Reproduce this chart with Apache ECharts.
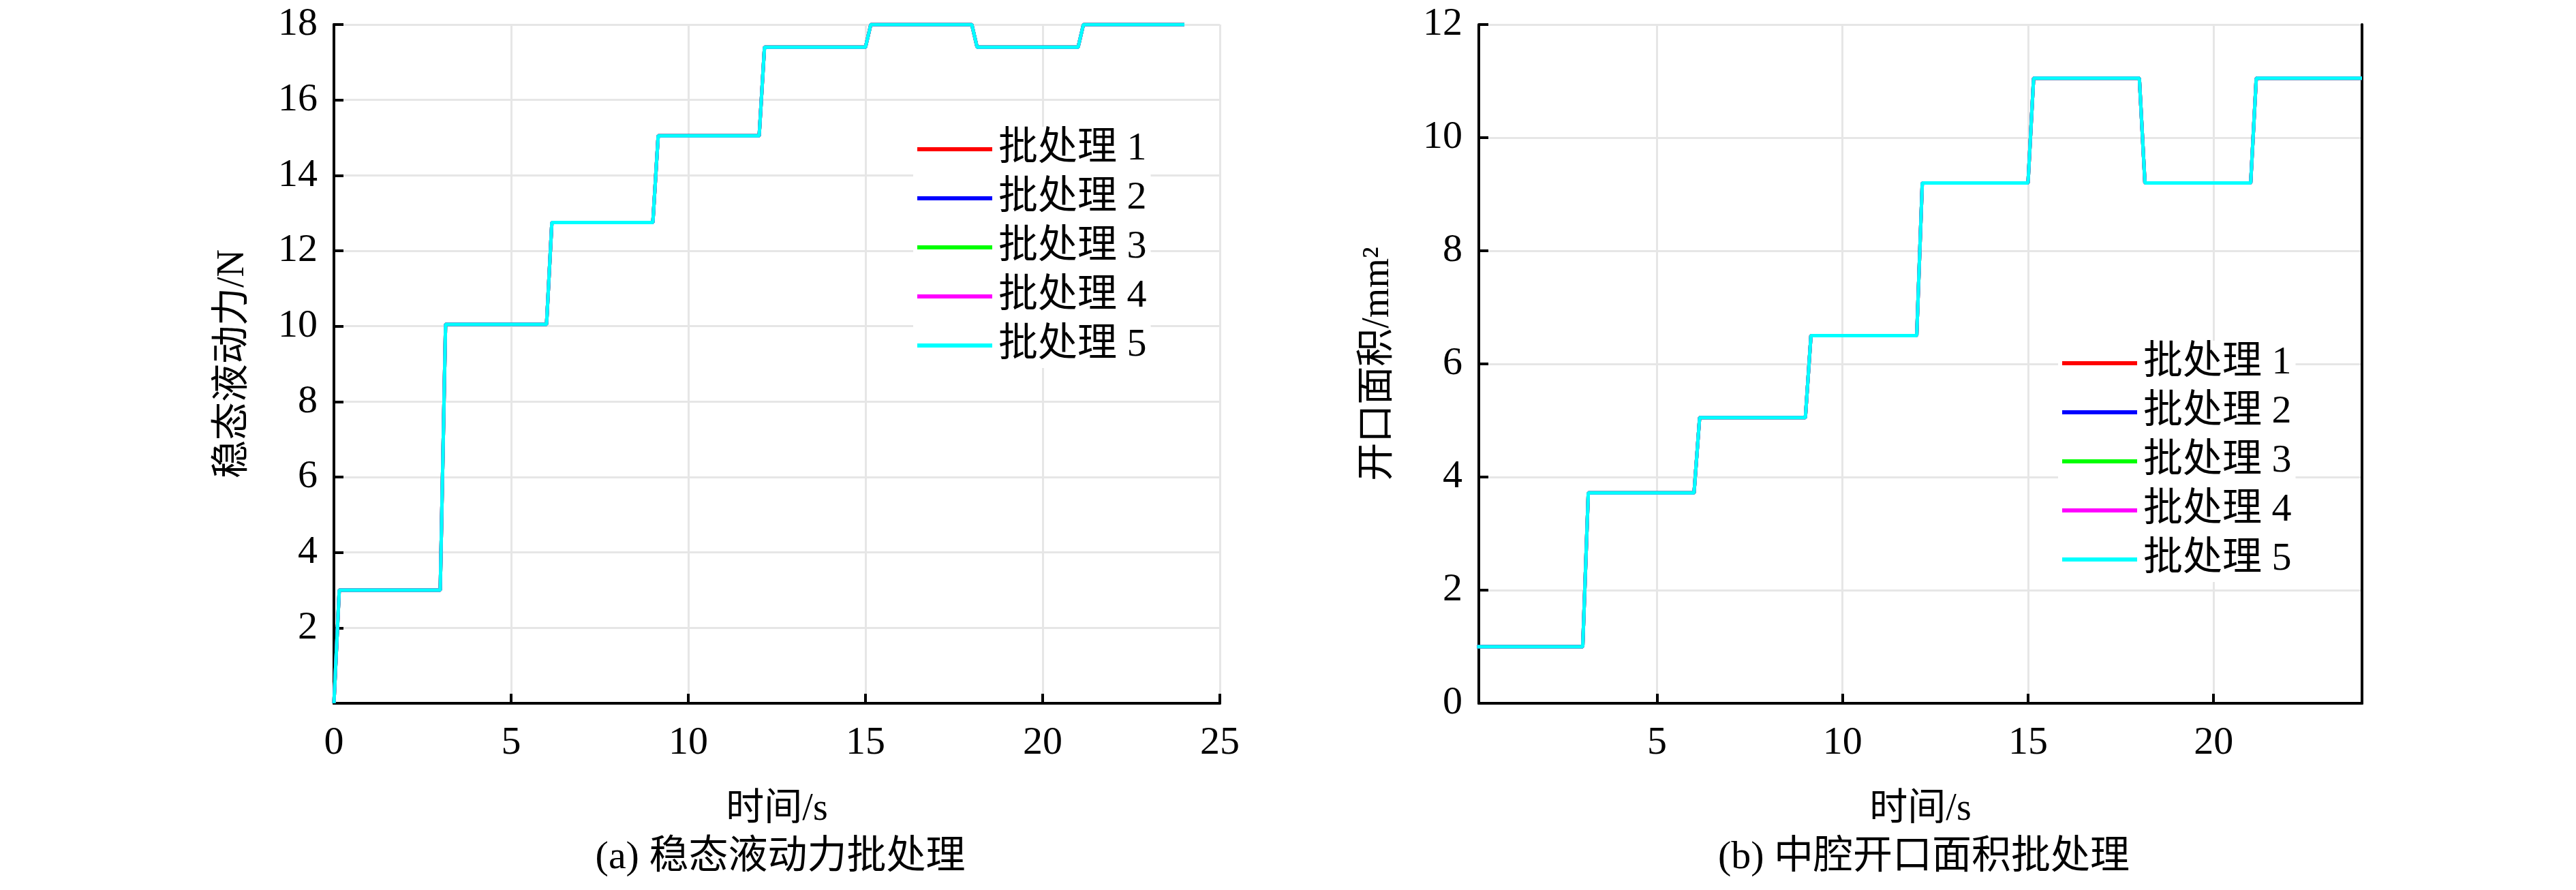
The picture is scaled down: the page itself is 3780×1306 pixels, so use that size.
<!DOCTYPE html>
<html>
<head>
<meta charset="UTF-8">
<script src="https://cdn.jsdelivr.net/npm/echarts@6/dist/echarts.min.js"></script>
<style>
  html, body { margin: 0; padding: 0; background: #fff; }
  #main { width: 3780px; height: 1306px; }
</style>
</head>
<body>
<div id="main"></div>
<script>
// step switching times (s)
var stepTimes = [0, 3, 6, 9, 12, 15, 18, 21, 24];
// steady-state flow force levels (N)
var forceLevels = [3.0, 10.05, 12.75, 15.05, 17.4, 18.0, 17.4, 18.0];
// middle chamber opening area levels (mm2)
var areaLevels = [1.0, 3.72, 5.05, 6.5, 9.2, 11.05, 9.2, 11.05];
var seriesNames = ['批处理 1', '批处理 2', '批处理 3', '批处理 4', '批处理 5'];
var seriesColors = ['#ff0000', '#0000ff', '#00ff00', '#ff00ff', '#00ffff'];

function buildSteps(levels, start, x0) {
  var pts = [[x0, start]];
  for (var i = 0; i < levels.length; i++) {
    pts.push([stepTimes[i] + 0.15, levels[i]]);
    pts.push([stepTimes[i + 1], levels[i]]);
  }
  return pts;
}

var font = '"Liberation Serif", "Noto Sans CJK SC", serif';
var chart = echarts.init(document.getElementById('main'));

function makeSeries(levels, start, x0, gi) {
  return seriesNames.map(function(n, k) {
    return {
      name: n, type: 'line', xAxisIndex: gi, yAxisIndex: gi,
      showSymbol: false, symbol: 'none',
      data: buildSteps(levels, start, x0),
      lineStyle: { color: seriesColors[k], width: 5 },
      itemStyle: { color: seriesColors[k] }, z: 2 + k
    };
  });
}

function xAxisOpt(gi, min, max, custom) {
  var o = {
    type: 'value', gridIndex: gi, min: min, max: max,
    name: '时间/s', nameLocation: 'middle', nameGap: 128,
    nameTextStyle: { fontFamily: font, fontSize: 56, color: '#000' },
    axisLine: { onZero: false, lineStyle: { color: '#000', width: 4 } },
    axisTick: { inside: true, length: 14, lineStyle: { color: '#000', width: 4 } },
    axisLabel: { fontFamily: font, fontSize: 58, color: '#000', margin: 30 },
    splitLine: { show: true, lineStyle: { color: '#e6e6e6', width: 3 } }
  };
  if (custom) {
    o.axisTick.customValues = custom;
    o.axisLabel.customValues = custom;
  } else {
    o.interval = 5;
  }
  return o;
}

function yAxisOpt(gi, max, name, hideZero) {
  return {
    type: 'value', gridIndex: gi, min: 0, max: max, interval: 2,
    name: name, nameLocation: 'middle', nameGap: 120,
    nameTextStyle: { fontFamily: font, fontSize: 56, color: '#000' },
    axisLine: { lineStyle: { color: '#000', width: 4 } },
    axisTick: { inside: true, length: 14, lineStyle: { color: '#000', width: 4 } },
    axisLabel: { fontFamily: font, fontSize: 58, color: '#000', margin: 24,
      formatter: function(v) { return (hideZero && v === 0) ? '' : v; } },
    splitLine: { show: true, lineStyle: { color: '#e6e6e6', width: 3 } }
  };
}

function frameAxes() {
  return {
    x: { type: 'value', position: 'top', axisLine: { show: true, lineStyle: { color: '#000', width: 4 } },
      axisTick: { show: false }, axisLabel: { show: false }, splitLine: { show: false } },
    y: { type: 'value', position: 'right', axisLine: { show: true, lineStyle: { color: '#000', width: 4 } },
      axisTick: { show: false }, axisLabel: { show: false }, splitLine: { show: false } }
  };
}

var f0 = frameAxes(), f1 = frameAxes();

function legendOpt(left, top) {
  return {
    data: seriesNames,
    left: left, top: top, orient: 'vertical', itemGap: 14,
    itemWidth: 110, itemHeight: 6, icon: 'rect',
    backgroundColor: '#fff', padding: [4, 6, 4, 6],
    textStyle: { fontFamily: font, fontSize: 58, color: '#000', padding: [0, 0, 0, 4] }
  };
}

var option = {
  animation: false,
  backgroundColor: '#fff',
  title: [
    { text: '(a) 稳态液动力批处理', left: 1140, top: 1225, textAlign: 'center',
      textStyle: { fontFamily: font, fontSize: 58, fontWeight: 'normal', color: '#000' } },
    { text: '(b) 中腔开口面积批处理', left: 2818, top: 1225, textAlign: 'center',
      textStyle: { fontFamily: font, fontSize: 58, fontWeight: 'normal', color: '#000' } }
  ],
  legend: [legendOpt(1340, 186), legendOpt(3020, 500)],
  grid: [
    { left: 490, top: 36, width: 1300, height: 996 },
    { left: 2170, top: 36, width: 1296, height: 996 }
  ],
  xAxis: [
    xAxisOpt(0, 0, 25),
    xAxisOpt(1, 0.2, 24, [5, 10, 15, 20]),
    Object.assign(f0.x, { gridIndex: 0, min: 0, max: 25 }),
    Object.assign(f1.x, { gridIndex: 1, min: 0.2, max: 24 })
  ],
  yAxis: [
    yAxisOpt(0, 18, '稳态液动力/N', true),
    yAxisOpt(1, 12, '开口面积/mm²', false),
    Object.assign(f0.y, { gridIndex: 0, min: 0, max: 18 }),
    Object.assign(f1.y, { gridIndex: 1, min: 0, max: 12 })
  ],
  series: makeSeries(forceLevels, 0, 0, 0).concat(makeSeries(areaLevels, 1.0, 0.2, 1))
};
chart.setOption(option);
</script>
</body>
</html>
